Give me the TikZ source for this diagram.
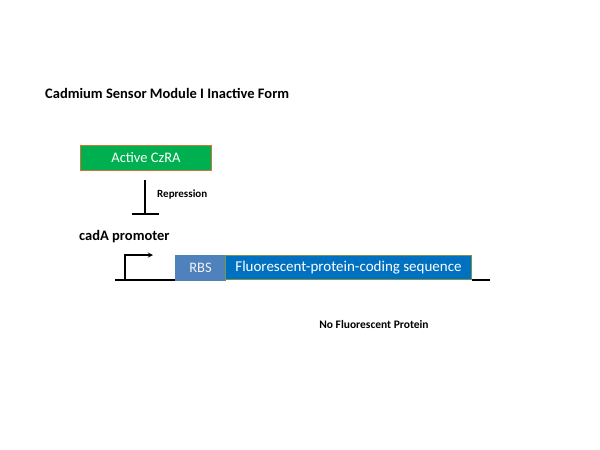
\documentclass[tikz,border=0pt]{standalone}
\usepackage{fontspec}
\setmainfont{Carlito}
\definecolor{czgreen}{RGB}{0,176,80}
\definecolor{czedge}{RGB}{205,120,50}
\definecolor{rbsblue}{RGB}{79,129,189}
\definecolor{cdsblue}{RGB}{0,112,192}
\definecolor{cdsedge}{RGB}{120,150,70}
\tikzset{
  lbl/.style={font=\bfseries\fontsize{11}{13}\selectfont, inner sep=0pt},
  part/.style={draw, line width=1pt, inner sep=0pt, anchor=north west,
    font=\fontsize{14.5}{16}\selectfont}
}
\begin{document}
\begin{tikzpicture}[x=1pt,y=-1pt]
    \useasboundingbox (0,0) rectangle (600,450);
    \node[lbl, anchor=west, font=\bfseries\fontsize{14.5}{16}\selectfont] (title) at (45,93)
      {Cadmium Sensor Module I Inactive Form};

    % repressor box
    \node[part, fill=czgreen, draw=czedge, text=white,
      minimum width=131pt, minimum height=25pt] (czra) at (80,145) {Active CzRA};

    % repression
    \coordinate (rtop) at (145,180);
    \coordinate (rbot) at (145,214);
    \draw[line width=1.3pt] (rtop) -- (rbot);
    \draw[line width=1.3pt] ([xshift=-13pt]rbot) -- ([xshift=14pt]rbot);
    \node[lbl, anchor=west] (repr) at (157,195) {Repression};

    % construct
    \node[lbl, anchor=west, font=\bfseries\fontsize{14.5}{16}\selectfont] (prom) at (79,237)
      {cadA promoter};
    \node[part, fill=rbsblue, draw=rbsblue, text=white!90!gray,
      minimum width=50pt, minimum height=25pt] (rbs) at (175,255) {RBS};
    \node[part, fill=cdsblue, draw=cdsedge, font=\fontsize{15}{17}\selectfont, text=white,
      minimum width=246pt, minimum height=24pt] (cds) at (225,255)
      {Fluorescent-protein-coding sequence};
    \coordinate (dnaL) at (115,280);
    \coordinate (dnaR) at (490,280);
    \draw[line width=1.3pt] (dnaL) -- (dnaL -| rbs.west);
    \draw[line width=1.3pt] (dnaR -| cds.east) -- (dnaR);
    \coordinate (pbase) at (125,280);
    \draw[line width=1.3pt, -stealth] (pbase) |- (153,255);

    \node[lbl, font=\bfseries\fontsize{11.5}{13}\selectfont] (nofp) at (374,325) {No Fluorescent Protein};
\end{tikzpicture}
\end{document}
